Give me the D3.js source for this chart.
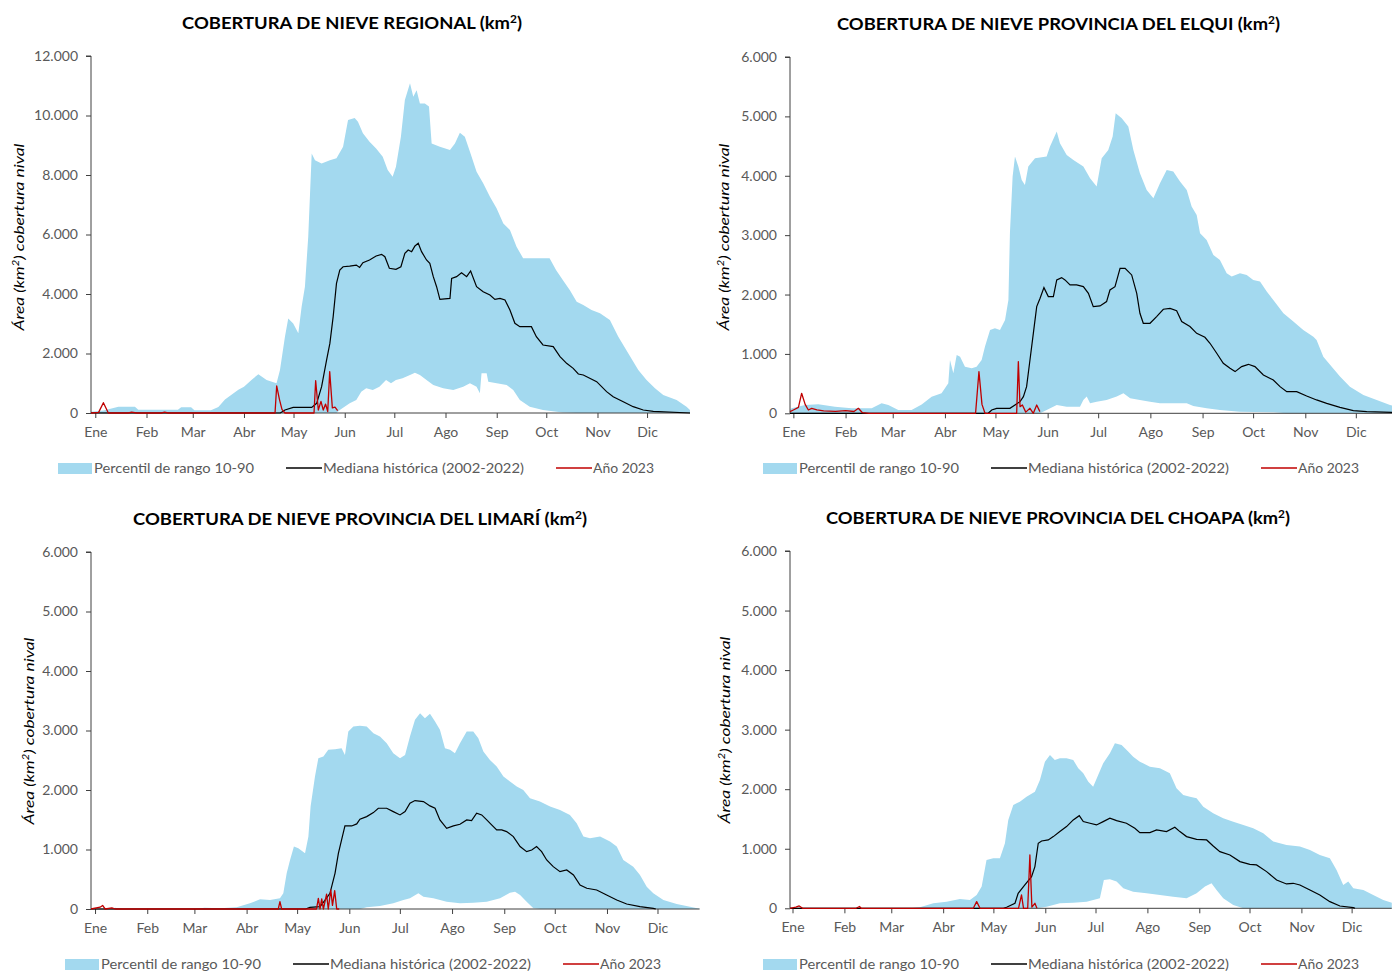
<!DOCTYPE html>
<html>
<head>
<meta charset="utf-8">
<script src="https://cdn.jsdelivr.net/npm/d3@7"></script>
<style>
	body { margin: 0; background: #fff; }
	svg { display: block; font-family: Lato, 'Open Sans', sans-serif; }
</style>
</head>
<body>
<div id="graphic"></div>
<script>
// month labels and the day of year each month starts on
const months = ['Ene', 'Feb', 'Mar', 'Abr', 'May', 'Jun', 'Jul', 'Ago', 'Sep', 'Oct', 'Nov', 'Dic'];
const monthStart = [0, 31, 59, 90, 120, 151, 181, 212, 243, 273, 304, 334];

const yTicksRegional = [0, 2000, 4000, 6000, 8000, 10000, 12000];
const yTicksProvince = [0, 1000, 2000, 3000, 4000, 5000, 6000];

const legendLabels = ['Percentil de rango 10-90', 'Mediana histórica (2002-2022)', 'Año 2023'];

// series are [day of year, km2]

// Regional
const regP90 = [[-2.6,40],[5,80],[14,210],[24,210],[26,110],[50,110],[52,190],[58,190],[60,90],[70,90],[74.5,200],[78.5,450],[86.6,780],[90,885],[94.7,1120],[98.7,1300],[103.7,1110],[109.7,1000],[111.8,1445],[114.8,2565],[116.8,3180],[119.8,3010],[122.9,2680],[124.9,3570],[126.9,4245],[128.9,5925],[131,8725],[133,8500],[137,8390],[142,8500],[146,8560],[150,8950],[153,9845],[157,9920],[159,9790],[162,9400],[166,9120],[170,8890],[174,8610],[177,8165],[180,7940],[182,8280],[185,9285],[187.4,10520],[190.5,11080],[192.5,10630],[194.5,10850],[196.5,10400],[199.5,10400],[202,10300],[203.6,9060],[208.6,8950],[214.7,8840],[217.7,9060],[220.7,9420],[223.7,9285],[226.8,8780],[230.8,8110],[234.8,7720],[238.9,7270],[242.9,6880],[247,6370],[251,6150],[255,5590],[259,5200],[275,5200],[279,4800],[283,4470],[287.3,4130],[291.4,3740],[295.4,3630],[300.4,3460],[305.5,3350],[311.5,3125],[316.6,2565],[322.6,2005],[328.7,1445],[333.7,1110],[338.8,830],[343.8,605],[351.9,437],[357.9,213],[360,100]];
const regP10 = [[-2.6,0],[146,0],[148,100],[154,325],[158,437],[161,717],[164,830],[168,773],[172,885],[176,1110],[179,1000],[182,1110],[186,1165],[190.5,1277],[193.5,1355],[196.5,1277],[200.5,1110],[204.6,940],[210.6,830],[216.7,773],[222.7,885],[226.8,1000],[230.8,885],[232.8,660],[233.8,1333],[236.9,1333],[237.9,1053],[243,1000],[249,940],[253,773],[257,437],[263,213],[271,100],[283,20],[291.4,0],[360,0]];
const regMed = [[-2.6,0],[112,0],[114.8,100],[119.8,190],[131,190],[134,325],[137,885],[140,1780],[142,2340],[144,3240],[146,4357],[148,4805],[150,4917],[154,4940],[158,4973],[160,4895],[162,5053],[166,5143],[170,5277],[173.3,5333],[175.3,5255],[178,4863],[182,4830],[185,4917],[187.4,5367],[189.4,5480],[191.5,5423],[193.5,5613],[195.5,5703],[197.5,5423],[200.5,5143],[202.5,5030],[204.6,4582],[206.6,4245],[208.6,3820],[214.7,3854],[215.7,4525],[218.7,4582],[221.7,4717],[224.8,4582],[227.2,4773],[230.8,4245],[234.8,4078],[238.9,3966],[241.9,3820],[245,3854],[248,3798],[251,3462],[254,3014],[257,2902],[264,2902],[267,2566],[271,2286],[277.2,2230],[281.3,1893],[285.3,1670],[289.3,1501],[292.4,1311],[295.4,1277],[303.5,1053],[309.5,717],[313.5,549],[319.6,381],[325.6,213],[331.7,100],[337.8,56],[360,0]];
const reg2023 = [[-2.6,0],[2,20],[4.9,346],[7.9,0],[20,0],[22,30],[25,0],[40,0],[42,30],[44,0],[108.8,0],[109.8,908],[111.5,450],[113,120],[114.8,0],[132.4,0],[133.4,1086],[135,100],[136.6,390],[138,100],[139.4,300],[140.7,50],[141.9,1390],[143.5,170],[145.1,200],[146.7,80]];

// Provincia del Elqui
const elqP90 = [[-2,60],[-1,84],[6.9,140],[14.8,152],[24.7,112],[34.6,84],[46.5,84],[52.4,168],[56.4,140],[62.3,56],[70.2,56],[76.2,150],[82.1,280],[88,337],[92,505],[93,898],[95,674],[97,982],[99,954],[101.9,786],[105.9,758],[108.8,786],[111.8,898],[113.8,1123],[116.8,1404],[119.7,1432],[122.7,1404],[125.7,1572],[127.7,1909],[128.6,3032],[130.2,3986],[131.6,4323],[133.6,4154],[135.6,3930],[137.5,3845],[139.5,4154],[143.5,4295],[150.4,4323],[152.4,4491],[156.4,4744],[158.3,4547],[162.3,4351],[166.3,4267],[172.2,4154],[176.2,3958],[180.1,3818],[183.1,4295],[187,4435],[189.6,4660],[191.4,5053],[195,4968],[198.9,4828],[201.9,4435],[205.8,4042],[209.8,3761],[213.8,3621],[217.7,3874],[221.7,4098],[225.6,4070],[229.6,3902],[233.6,3761],[236.5,3481],[239.5,3340],[241.5,3032],[245.4,2919],[249.4,2667],[253.3,2582],[257.3,2358],[260.3,2302],[265.2,2358],[269.2,2330],[273.1,2246],[277.1,2218],[281.1,2049],[285,1909],[291,1684],[296.9,1544],[302.8,1404],[308.8,1291],[310.7,1235],[314.7,954],[319.7,786],[324.6,618],[330.5,449],[338.5,309],[346.4,225],[354.3,140],[360,100]];
const elqP10 = [[-2,0],[146.5,0],[150.4,56],[156.4,140],[162.3,112],[170.2,112],[172.2,225],[174.2,281],[176.2,168],[180.1,196],[186,225],[192,281],[196,337],[200,253],[205.8,225],[211.8,196],[217.7,168],[233.6,168],[237.5,124],[245.4,84],[253.3,56],[265.2,28],[285,17],[293,0],[360,0]];
const elqMed = [[-2,0],[115.7,0],[117.8,56],[120.7,84],[128.6,84],[131.6,140],[134.6,196],[136.6,281],[138.5,449],[140.5,898],[142.5,1347],[144.5,1796],[146.5,1937],[148.8,2116],[151.4,1965],[154.4,1965],[156.4,2246],[159.3,2285],[161.3,2246],[164.3,2161],[168.2,2161],[172.2,2133],[175.2,2021],[178.1,1796],[182.1,1808],[186,1881],[188,2077],[191,2133],[194,2442],[197,2442],[200.9,2330],[203.9,2021],[205.8,1684],[207.8,1516],[211.8,1516],[215.7,1628],[219.7,1752],[223.7,1768],[227.6,1729],[230.6,1544],[235.5,1460],[239.5,1347],[244.4,1280],[247.4,1179],[251.4,1011],[255.3,842],[259.3,758],[262.3,702],[266.2,786],[270.2,825],[274.1,786],[279.1,646],[285,561],[289,449],[293,365],[298.9,365],[304.8,292],[310.7,225],[316.7,168],[324.6,101],[332.5,45],[340.5,28],[360,11]];
const elq2023 = [[-2,28],[0,56],[3,100],[4.9,337],[7,150],[8.9,56],[10.9,84],[14,56],[18,40],[25,34],[31,45],[36,30],[38.6,84],[41,10],[45,0],[108.2,0],[110.2,702],[112,150],[113.8,0],[132.6,0],[133.6,870],[134.6,112],[136,140],[138,20],[140.5,84],[142.5,0],[144.5,140],[146.4,28]];

// Provincia del Limari
const limP90 = [[-2.4,0],[8,0],[12,20],[16,0],[60,0],[65,20],[74.2,11],[84.1,28],[92,95],[98,163],[103.9,151],[109.8,179],[111.8,263],[113.8,600],[115.8,824],[118.1,1049],[120.7,1020],[124.7,936],[126.7,1217],[128,1721],[130.6,2226],[132.6,2534],[135.6,2562],[138.5,2675],[142.5,2686],[146.4,2703],[148.4,2590],[150.4,2983],[153.4,3067],[157.3,3078],[161.3,3067],[165.3,2955],[169.2,2899],[173.2,2787],[177.1,2618],[181.1,2534],[184.1,2590],[187,2899],[190,3179],[193,3291],[195.9,3207],[198.9,3280],[201.9,3151],[204.8,3011],[207.8,2703],[210.8,2675],[213.7,2618],[216.7,2787],[220.7,2983],[224.6,2983],[227.6,2871],[230.6,2647],[234.5,2506],[238.5,2394],[242.5,2226],[246.4,2142],[250.4,2058],[254.3,2002],[258.3,1862],[264.2,1805],[270.2,1721],[276.1,1665],[282,1581],[286,1441],[290,1217],[293.9,1189],[299.9,1217],[305.8,1133],[309.8,1049],[313.7,824],[319.6,712],[323.6,572],[327.6,376],[331.5,264],[337.5,151],[345.4,84],[353.3,39],[359,6]];
const limP10 = [[-2.4,0],[157.3,0],[161.3,28],[169.2,50],[177.1,95],[183.1,151],[187,179],[192,263],[195,207],[200.9,179],[208.8,123],[216.7,95],[224.6,107],[232.6,123],[240.5,179],[246.4,275],[249.4,292],[252.4,235],[256.3,123],[260.3,11],[264.2,0],[359,0]];
const limMed = [[-2.4,0],[125,0],[127.6,28],[133.6,39],[136.6,151],[139.5,263],[142.5,600],[144.5,936],[146.4,1161],[148.4,1396],[152.4,1396],[155.4,1430],[157.3,1508],[161.3,1553],[165.3,1620],[168.2,1693],[173.2,1693],[177.1,1637],[181.1,1581],[184.1,1637],[187,1777],[190,1822],[195,1805],[198.9,1733],[201.9,1693],[204.8,1497],[208.8,1357],[212.8,1396],[216.7,1424],[220.7,1497],[223.6,1486],[226.6,1609],[229.6,1581],[232.6,1497],[235.5,1413],[238.5,1329],[241.5,1329],[244.4,1301],[248.4,1217],[252.4,1049],[256.3,964],[259.3,992],[262.2,1049],[265.2,964],[268.2,824],[272.1,712],[276.1,628],[280.1,656],[284.1,572],[288,404],[292,348],[297.9,320],[303.8,235],[309.8,151],[315.7,84],[323.6,39],[331.5,11],[333,0]];
const lim2023 = [[-2.4,0],[3,30],[4.5,60],[6,0],[10,20],[12,0],[108.8,0],[109.8,123],[110.8,0],[131.5,0],[132.6,179],[133.6,0],[134.6,170],[135.6,0],[137.5,250],[138.5,0],[140,320],[141,60],[142.3,310],[143.5,0],[145,0]];

// Provincia del Choapa
const choP90 = [[-1.5,0],[5,10],[70,0],[76.1,17],[84.1,84],[92,112],[100,157],[106,140],[110,224],[113,364],[115.9,812],[119.9,840],[123.9,840],[126.9,1092],[128.9,1484],[131.9,1735],[135.8,1791],[139.8,1875],[144.8,1959],[147.8,2155],[150.8,2463],[153.8,2575],[156.7,2491],[159.7,2519],[163.7,2519],[167.7,2491],[170.7,2351],[173.7,2267],[176.7,2127],[179.6,2043],[182.6,2239],[185.6,2435],[189.6,2603],[192.6,2771],[196.6,2743],[200.5,2631],[203.5,2547],[207.5,2463],[213.5,2379],[219.5,2351],[225.4,2267],[229.4,2015],[233.4,1903],[237.4,1875],[241.4,1847],[245.4,1707],[251.3,1595],[257.3,1511],[263.3,1455],[269.3,1400],[275.2,1344],[281.2,1260],[287.2,1120],[295.1,1064],[303.1,1036],[309.1,980],[315,896],[321,840],[325,644],[329,392],[332,448],[335,336],[341,308],[346.9,224],[352.9,140],[358,95]];
const choP10 = [[-1.5,0],[145.8,0],[151.8,28],[159.7,84],[167.7,95],[175.7,112],[183.6,168],[186,476],[189.6,487],[193.6,448],[197.6,336],[203.5,280],[211.5,252],[219.5,224],[227.4,196],[235.4,168],[241.4,252],[246.4,364],[250.3,420],[253.3,308],[257.3,168],[263.3,56],[269.3,0],[358,0]];
const choMed = [[-1.5,0],[126,0],[127.9,17],[132.9,84],[134.8,252],[138.8,392],[142.8,532],[144.8,700],[146.8,1092],[148.8,1131],[152.8,1148],[155.8,1204],[159.7,1288],[163.7,1372],[167.7,1484],[171.3,1556],[173.7,1456],[177.7,1428],[181.6,1400],[185.6,1456],[189.6,1512],[193.6,1472],[199.5,1428],[204.5,1344],[207.5,1271],[213.5,1271],[217.5,1316],[223.4,1288],[228.4,1360],[231.4,1288],[235.4,1204],[241.4,1159],[247.4,1148],[251.3,1047],[255.3,952],[261.3,896],[267.3,784],[273.2,739],[277.2,728],[283.2,616],[289.2,476],[295.1,409],[299.1,420],[303.1,392],[309.1,308],[315,224],[321,112],[327,39],[335,11],[336,0]];
const cho2023 = [[-1.5,0],[2,20],[4,40],[6,0],[38,0],[40,30],[41,0],[108,0],[110,112],[112,0],[135,0],[136.8,224],[138,0],[140.5,0],[141.8,896],[143,20],[144.8,84],[146,0]];

// layout of the four panels
const panels = [
	{ title: 'COBERTURA DE NIEVE REGIONAL', p10: regP10, p90: regP90, med: regMed, cur: reg2023, yTicks: yTicksRegional,
		xRange: [91, 690], dayDomain: [-2.6, 360], yRange: [413, 56], titleX: 352, titleY: 29, titleW: 340, yLab: [19, 237], leg: [58, 468] },
	{ title: 'COBERTURA DE NIEVE PROVINCIA DEL ELQUI', p10: elqP10, p90: elqP90, med: elqMed, cur: elq2023, yTicks: yTicksProvince,
		xRange: [790, 1399.6], dayDomain: [-2, 360], yRange: [413.3, 57], titleX: 1058.5, titleY: 30, titleW: 443, yLab: [724, 237], leg: [763, 468] },
	{ title: 'COBERTURA DE NIEVE PROVINCIA DEL LIMARÍ', p10: limP10, p90: limP90, med: limMed, cur: lim2023, yTicks: yTicksProvince,
		xRange: [91, 699.6], dayDomain: [-2.4, 359], yRange: [909, 552], titleX: 360, titleY: 525, titleW: 454, yLab: [29, 731], leg: [65, 964] },
	{ title: 'COBERTURA DE NIEVE PROVINCIA DEL CHOAPA', p10: choP10, p90: choP90, med: choMed, cur: cho2023, yTicks: yTicksProvince,
		xRange: [790, 1391.8], dayDomain: [-1.5, 358], yRange: [908.3, 551], titleX: 1058, titleY: 524, titleW: 464, yLab: [725, 730], leg: [763, 964] }
];

const colours = { band: '#a3d9ef', median: '#000000', current: '#c00000', axis: '#404040', text: '#595959' };

// spanish number format: 12.000
const esFormat = d3.formatLocale({ decimal: ',', thousands: '.', grouping: [3], currency: ['', ''] }).format(',d');

const svg = d3.select('#graphic')
	.append('svg')
	.attr('width', 1392)
	.attr('height', 971);

panels.forEach(function (p) {
	const x = d3.scaleLinear().domain(p.dayDomain).range(p.xRange);
	const y = d3.scaleLinear().domain([0, d3.max(p.yTicks)]).range(p.yRange);
	const g = svg.append('g');

	const line = d3.line().x((d) => x(d[0])).y((d) => y(d[1]));

	// 10-90 band: upper edge forward, lower edge back
	g.append('path')
		.attr('d', line(p.p90.concat(p.p10.slice().reverse())) + 'Z')
		.attr('fill', colours.band);

	// y axis
	const yAxis = d3.axisLeft(y).tickValues(p.yTicks).tickSize(5).tickPadding(8).tickFormat(esFormat);
	g.append('g')
		.attr('transform', 'translate(' + p.xRange[0] + ',0)')
		.call(yAxis)
		.call((a) => a.select('.domain').attr('stroke', colours.axis).attr('d', 'M-5,' + y(d3.max(p.yTicks)) + 'H0V' + y(0)))
		.call((a) => a.selectAll('line').attr('stroke', colours.axis))
		.call((a) => a.selectAll('text').attr('fill', colours.text).attr('font-size', 14).attr('font-family', 'Lato, sans-serif'));

	// x axis with month ticks
	const xAxis = d3.axisBottom(x).tickValues(monthStart).tickSize(5).tickPadding(9)
		.tickFormat((d, i) => months[i]);
	g.append('g')
		.attr('transform', 'translate(0,' + y(0) + ')')
		.call(xAxis)
		.call((a) => a.select('.domain').attr('stroke', colours.axis).attr('d', 'M' + p.xRange[0] + ',0H' + p.xRange[1]))
		.call((a) => a.selectAll('line').attr('stroke', colours.axis))
		.call((a) => a.selectAll('text').attr('fill', colours.text).attr('font-size', 14).attr('font-family', 'Lato, sans-serif'));

	// median and 2023
	g.append('path')
		.attr('d', line(p.med))
		.attr('fill', 'none')
		.attr('stroke', colours.median)
		.attr('stroke-width', 1.2);

	g.append('path')
		.attr('d', line(p.cur))
		.attr('fill', 'none')
		.attr('stroke', colours.current)
		.attr('stroke-width', 1.3)
		.attr('stroke-linejoin', 'round');

	// title
	const title = g.append('text')
		.attr('x', p.titleX)
		.attr('y', p.titleY)
		.attr('text-anchor', 'middle')
		.attr('font-size', 17)
		.attr('font-weight', 'bold')
		.attr('fill', '#000')
		.attr('textLength', p.titleW)
		.attr('lengthAdjust', 'spacingAndGlyphs');
	title.append('tspan').text(p.title + ' (km');
	title.append('tspan').attr('baseline-shift', 'super').attr('font-size', 11).text('2');
	title.append('tspan').text(')');

	// y axis label
	const yLabel = g.append('text')
		.attr('transform', 'translate(' + p.yLab[0] + ',' + p.yLab[1] + ') rotate(-90)')
		.attr('text-anchor', 'middle')
		.attr('dy', '0.35em')
		.attr('font-size', 14)
		.attr('font-style', 'italic')
		.attr('fill', '#000')
		.attr('textLength', 187)
		.attr('lengthAdjust', 'spacingAndGlyphs');
	yLabel.append('tspan').text('Área (km');
	yLabel.append('tspan').attr('baseline-shift', 'super').attr('font-size', 9).text('2');
	yLabel.append('tspan').text(') cobertura nival');

	// legend
	const lx = p.leg[0], ly = p.leg[1];
	const leg = g.append('g').attr('fill', colours.text).attr('font-size', 14);
	leg.append('rect').attr('x', lx).attr('y', ly - 5).attr('width', 34).attr('height', 11).attr('fill', colours.band);
	leg.append('text').attr('x', lx + 36).attr('y', ly).attr('dy', '0.35em')
		.attr('textLength', 160).attr('lengthAdjust', 'spacingAndGlyphs').text(legendLabels[0]);
	leg.append('line').attr('x1', lx + 228).attr('x2', lx + 264).attr('y1', ly).attr('y2', ly)
		.attr('stroke', colours.median).attr('stroke-width', 1.3);
	leg.append('text').attr('x', lx + 265).attr('y', ly).attr('dy', '0.35em')
		.attr('textLength', 201).attr('lengthAdjust', 'spacingAndGlyphs').text(legendLabels[1]);
	leg.append('line').attr('x1', lx + 498).attr('x2', lx + 534).attr('y1', ly).attr('y2', ly)
		.attr('stroke', colours.current).attr('stroke-width', 1.3);
	leg.append('text').attr('x', lx + 535).attr('y', ly).attr('dy', '0.35em')
		.attr('textLength', 61).attr('lengthAdjust', 'spacingAndGlyphs').text(legendLabels[2]);
});
</script>
</body>
</html>
